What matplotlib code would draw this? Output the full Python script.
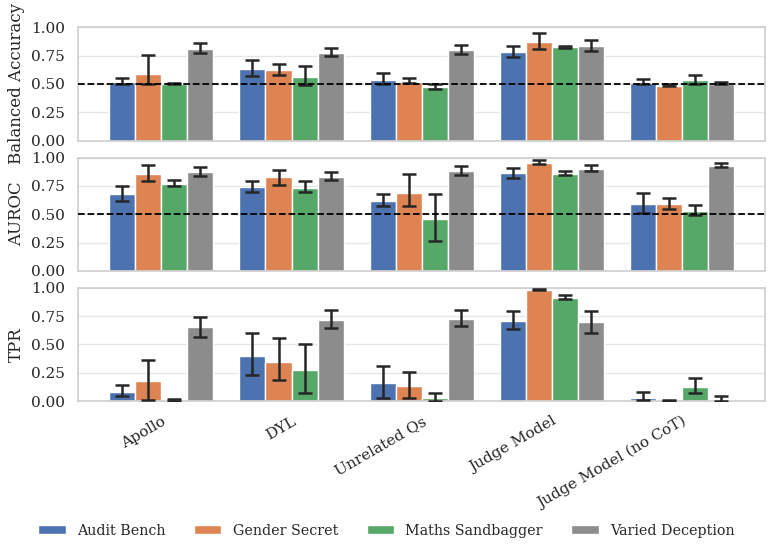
import matplotlib
matplotlib.use("Agg")
import matplotlib.pyplot as plt
import numpy as np
import seaborn as sns

methods = ["Apollo", "DYL", "Unrelated Qs", "Judge Model", "Judge Model (no CoT)"]
datasets = ["Audit Bench", "Gender Secret", "Maths Sandbagger", "Varied Deception"]
colors = ["#4C72B0", "#DD8452", "#55A868", "#8C8C8C"]

# balanced accuracy: mean, lower CI, upper CI  (rows = dataset, cols = method)
bacc = [[0.52, 0.63, 0.535, 0.78, 0.51],
        [0.585, 0.627, 0.52, 0.868, 0.485],
        [0.50, 0.56, 0.47, 0.826, 0.535],
        [0.81, 0.775, 0.80, 0.835, 0.50]]
bacc_lo = [[0.50, 0.57, 0.50, 0.74, 0.50],
           [0.50, 0.58, 0.505, 0.81, 0.485],
           [0.50, 0.49, 0.455, 0.82, 0.50],
           [0.77, 0.75, 0.765, 0.79, 0.495]]
bacc_hi = [[0.55, 0.71, 0.60, 0.835, 0.54],
           [0.755, 0.68, 0.55, 0.947, 0.50],
           [0.505, 0.66, 0.50, 0.835, 0.58],
           [0.86, 0.815, 0.845, 0.89, 0.52]]

auroc = [[0.674, 0.74, 0.615, 0.86, 0.59],
         [0.853, 0.83, 0.69, 0.953, 0.59],
         [0.768, 0.735, 0.46, 0.856, 0.527],
         [0.87, 0.83, 0.88, 0.90, 0.926]]
auroc_lo = [[0.615, 0.70, 0.57, 0.82, 0.51],
            [0.794, 0.76, 0.57, 0.94, 0.547],
            [0.747, 0.697, 0.26, 0.847, 0.494],
            [0.84, 0.80, 0.85, 0.885, 0.918]]
auroc_hi = [[0.75, 0.794, 0.676, 0.91, 0.69],
            [0.93, 0.89, 0.853, 0.98, 0.644],
            [0.80, 0.79, 0.68, 0.88, 0.58],
            [0.92, 0.87, 0.926, 0.935, 0.95]]

tpr = [[0.083, 0.40, 0.157, 0.704, 0.03],
       [0.178, 0.346, 0.133, 0.982, 0.005],
       [0.005, 0.278, 0.027, 0.914, 0.124],
       [0.65, 0.719, 0.725, 0.695, 0.01]]
tpr_lo = [[0.047, 0.23, 0.024, 0.636, 0.012],
          [0.012, 0.19, 0.027, 0.98, 0.0],
          [0.0, 0.068, 0.0, 0.905, 0.068],
          [0.568, 0.645, 0.66, 0.598, 0.0]]
tpr_hi = [[0.14, 0.598, 0.31, 0.793, 0.077],
          [0.367, 0.556, 0.257, 0.994, 0.01],
          [0.018, 0.503, 0.07, 0.94, 0.204],
          [0.745, 0.805, 0.805, 0.796, 0.044]]

panels = [("Balanced Accuracy", bacc, bacc_lo, bacc_hi, True),
          ("AUROC", auroc, auroc_lo, auroc_hi, True),
          ("TPR", tpr, tpr_lo, tpr_hi, False)]

sns.set_theme(style="whitegrid", rc={"grid.color": "#e6e6e6",
                                     "axes.edgecolor": "#d0d0d0"})
plt.rcParams["font.family"] = ["DejaVu Serif"]

fig, axes = plt.subplots(3, 1, figsize=(7.73, 5.45), dpi=100, sharex=True)
fig.subplots_adjust(left=0.101, right=0.99, top=0.95, bottom=0.264, hspace=0.15)

x = np.arange(len(methods))
w = 0.2
for ax, (label, vals, lo, hi, chance) in zip(axes, panels):
    for i, ds in enumerate(datasets):
        v = np.array(vals[i])
        err = [v - np.array(lo[i]), np.array(hi[i]) - v]
        pos = x + (i - 1.5) * w
        ax.bar(pos, v, w, color=colors[i], edgecolor="white", linewidth=1,
               label=ds, zorder=2)
        ax.errorbar(pos, v, yerr=np.clip(err, 0, None), fmt="none",
                    ecolor="#262626", elinewidth=1.8, capsize=5, capthick=1.8,
                    zorder=3)
    if chance:
        ax.axhline(0.5, color="black", linestyle="--", linewidth=1.3, zorder=4)
    ax.set_ylim(0, 1.0)
    ax.set_yticks([0, 0.25, 0.5, 0.75, 1.0])
    ax.set_yticklabels(["0.00", "0.25", "0.50", "0.75", "1.00"])
    ax.set_ylabel(label)
    ax.set_xlim(-0.64, 4.64)
    ax.grid(axis="x", visible=False)
    ax.set_axisbelow(True)

axes[-1].set_xticks(x)
axes[-1].set_xticklabels(methods, rotation=30, ha="right",
                         rotation_mode="anchor")

handles, labels = axes[0].get_legend_handles_labels()
fig.legend(handles, labels, loc="center", ncol=4, frameon=False,
           bbox_to_anchor=(0.5, 0.026), fontsize=10.3, handlelength=1.9,
           handleheight=0.55, columnspacing=2.0)

plt.savefig("out.png", dpi=100)
